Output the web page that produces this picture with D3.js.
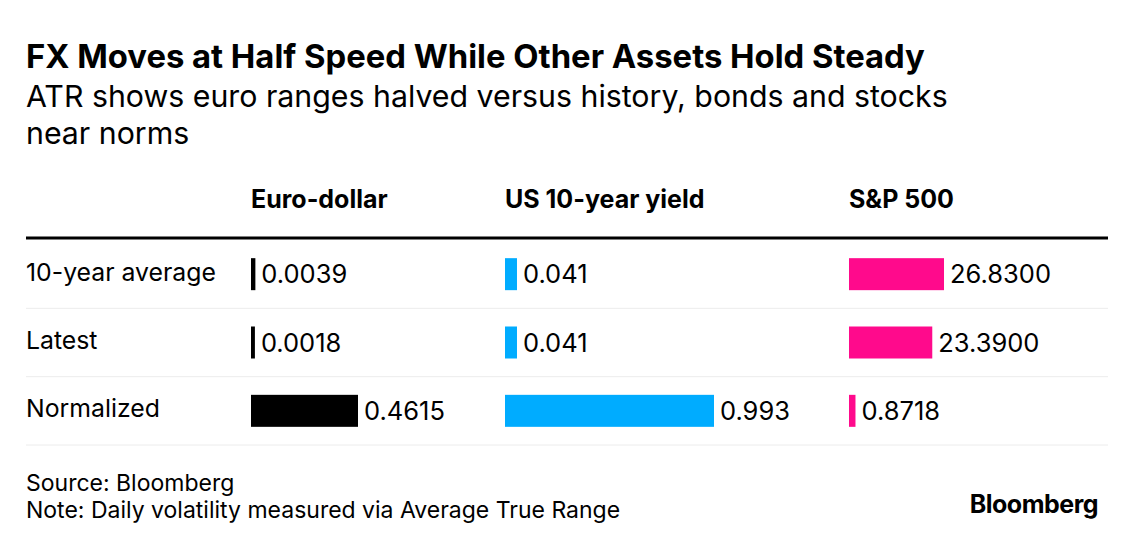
<!DOCTYPE html>
<html>
<head>
<meta charset="utf-8">
<style>
  body { margin: 0; background: #fff; }
  svg { font-family: Inter, "Liberation Sans", Arial, sans-serif; }
</style>
</head>
<body>
<svg width="1135" height="546"></svg>
<script src="https://d3js.org/d3.v7.min.js"></script>
<script>

// chart data
var title = "FX Moves at Half Speed While Other Assets Hold Steady";
var subtitle = ["ATR shows euro ranges halved versus history, bonds and stocks", "near norms"];
var rowLabels = ["10-year average", "Latest", "Normalized"];
var columns = ["Euro-dollar", "US 10-year yield", "S&P 500"];
var euroDollar = [0.0039, 0.0018, 0.4615];
var us10Year = [0.041, 0.041, 0.993];
var sp500 = [26.83, 23.39, 0.8718];
var decimals = [4, 3, 4];
var source = "Source: Bloomberg";
var note = "Note: Daily volatility measured via Average True Range";

var series = [euroDollar, us10Year, sp500];

// layout
var svg = d3.select("svg");
var left = 26, right = 1108;
var colX = [251, 505, 849];
var colBarMax = [107, 209, 95];
var colors = ["#000000", "#00acff", "#ff0a8c"];
var barH = 32;

// title + subtitle
svg.append("text")
    .attr("x", left).attr("y", 68)
    .attr("font-size", 32.8).attr("font-weight", "bold")
    .attr("fill", "#000")
    .text(title);

svg.selectAll("text.sub")
  .data(subtitle)
  .enter().append("text")
    .attr("class", "sub")
    .attr("x", left)
    .attr("y", function(d, i) { return 107 + i * 37; })
    .attr("font-size", 30.3)
    .attr("fill", "#000")
    .text(function(d) { return d; });

// column headers
svg.selectAll("text.col")
  .data(columns)
  .enter().append("text")
    .attr("class", "col")
    .attr("x", function(d, i) { return colX[i]; })
    .attr("y", 208)
    .attr("font-size", 25).attr("font-weight", "bold")
    .text(function(d) { return d; });

svg.append("line")
    .attr("x1", left).attr("x2", right)
    .attr("y1", 238).attr("y2", 238)
    .attr("stroke", "#000").attr("stroke-width", 3);

// rows
var y = d3.scaleBand()
    .domain(rowLabels)
    .range([240, 445]);

svg.selectAll("line.sep")
  .data(rowLabels)
  .enter().append("line")
    .attr("class", "sep")
    .attr("x1", left).attr("x2", right)
    .attr("y1", function(d) { return y(d) + y.bandwidth(); })
    .attr("y2", function(d) { return y(d) + y.bandwidth(); })
    .attr("stroke", "#ececec").attr("stroke-width", 1);

svg.selectAll("text.row")
  .data(rowLabels)
  .enter().append("text")
    .attr("class", "row")
    .attr("x", left)
    .attr("y", function(d) { return y(d) + y.bandwidth() / 2 + 6.5; })
    .attr("font-size", 24.8)
    .text(function(d) { return d; });

// one group per column, each with its own scale
series.forEach(function(vals, c) {
  var x = d3.scaleLinear()
      .domain([0, d3.max(vals)])
      .range([3.5, colBarMax[c]]);
  var fmt = d3.format("." + decimals[c] + "f");

  var g = svg.append("g").attr("transform", "translate(" + colX[c] + ",0)");

  g.selectAll("rect")
    .data(vals)
    .enter().append("rect")
      .attr("x", 0)
      .attr("y", function(d, i) { return y(rowLabels[i]) + y.bandwidth() / 2 - barH / 2; })
      .attr("width", function(d) { return x(d); })
      .attr("height", barH)
      .attr("fill", colors[c]);

  g.selectAll("text")
    .data(vals)
    .enter().append("text")
      .attr("x", function(d) { return x(d) + 6; })
      .attr("y", function(d, i) { return y(rowLabels[i]) + y.bandwidth() / 2 + 9; })
      .attr("font-size", 25.5)
      .attr("fill", "#000")
      .text(function(d) { return fmt(d); });
});

// footer
svg.append("text")
    .attr("x", left).attr("y", 491)
    .attr("font-size", 23)
    .text(source);
svg.append("text")
    .attr("x", left).attr("y", 518)
    .attr("font-size", 23)
    .text(note);
svg.append("text")
    .attr("x", 1098).attr("y", 513)
    .attr("text-anchor", "end")
    .attr("font-size", 25).attr("font-weight", "bold")
    .attr("letter-spacing", -0.5)
    .text("Bloomberg");

</script>
</body>
</html>
